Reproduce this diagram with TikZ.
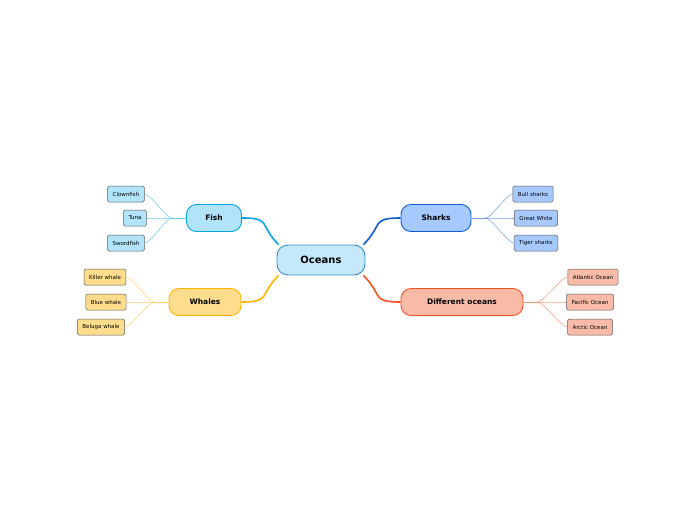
\documentclass[tikz,border=0pt]{standalone}
\usepackage{fontspec}
\setmainfont{DejaVu Sans}
\usepackage{tikz}
\usetikzlibrary{positioning}

\definecolor{oceanfill}{HTML}{C4E9FB}
\definecolor{oceanline}{HTML}{3A8CC4}
\definecolor{fishfill}{HTML}{B1E4FA}
\definecolor{fishline}{HTML}{03A3E6}
\definecolor{sharkfill}{HTML}{A6C9FF}
\definecolor{sharkline}{HTML}{0B5CD6}
\definecolor{whalefill}{HTML}{FFDD8C}
\definecolor{whaleline}{HTML}{FFB300}
\definecolor{seafill}{HTML}{F9BBA8}
\definecolor{sealine}{HTML}{F4511E}

\tikzset{
	root/.style={draw=oceanline, fill=oceanfill, rounded corners=11pt, line width=0.9pt,
		minimum width=88pt, minimum height=30pt, font=\bfseries\fontsize{10}{12}\selectfont},
	topic/.style={draw=#1line, fill=#1fill, rounded corners=10pt, line width=0.9pt,
		minimum height=27pt, inner xsep=8pt, font=\bfseries\fontsize{7.5}{9}\selectfont},
	leaf/.style={draw=black!65, fill=#1fill, rounded corners=1.5pt, line width=0.5pt,
		minimum height=16pt, inner xsep=5pt, font=\fontsize{5.5}{7}\selectfont},
	main link/.style={draw=#1line, line width=1.6pt},
	leaf link/.style={draw=#1line!60, line width=0.5pt},
}

\begin{document}
\begin{tikzpicture}[x=1pt, y=-1pt]

	% ------------------------------------------------
	% Canvas
	\useasboundingbox (0,0) rectangle (697,520);

	% ------------------------------------------------
	% Centre and topics
	\node[root] (Oceans) at (321,260) {Oceans};

	\node[topic=fish, minimum width=55pt]   (Fish)   at (214,218) {Fish};
	\node[topic=whale, minimum width=72pt]  (Whales) at (205,302) {Whales};
	\node[topic=shark, minimum width=70pt]  (Sharks) at (436,218) {Sharks};
	\node[topic=sea, minimum width=122pt]   (Seas)   at (462,302) {Different oceans};

	% ----------------
	% Leaves
	\node[leaf=fish]  (Clownfish) at (126,194) {Clownfish};
	\node[leaf=fish]  (Tuna)      at (135,218) {Tuna};
	\node[leaf=fish]  (Swordfish) at (126,243) {Swordfish};

	\node[leaf=whale] (Killer)    at (105,277) {Killer whale};
	\node[leaf=whale] (Blue)      at (106,302) {Blue whale};
	\node[leaf=whale] (Beluga)    at (101,327) {Beluga whale};

	\node[leaf=shark] (Bull)      at (533,194) {Bull sharks};
	\node[leaf=shark] (Great)     at (536,218) {Great White};
	\node[leaf=shark] (Tiger)     at (536,243) {Tiger sharks};

	\node[leaf=sea]   (Atlantic)  at (593,277) {Atlantic Ocean};
	\node[leaf=sea]   (Pacific)   at (590,302) {Pacific Ocean};
	\node[leaf=sea]   (Arctic)    at (590,327) {Arctic Ocean};

	% ------------------------------------------------
	% Split points
	\path (Fish.west)   +(-14,0) coordinate (FishSplit);
	\path (Whales.west) +(-14,0) coordinate (WhaleSplit);
	\path (Sharks.east) +(14,0)  coordinate (SharkSplit);
	\path (Seas.east)   +(14,0)  coordinate (SeaSplit);

	% ------------------------------------------------
	% Main branches
	\begin{scope}[on background layer/.style={}]
	\draw[main link=fish]  (Oceans.160) .. controls +(-20,-20) and +(30,0) .. (Fish.east);
	\draw[main link=whale] (Oceans.200) .. controls +(-20,20) and +(30,0) .. (Whales.east);
	\draw[main link=shark] (Oceans.20)  .. controls +(20,-20) and +(-30,0) .. (Sharks.west);
	\draw[main link=sea]   (Oceans.340) .. controls +(20,20) and +(-30,0) .. (Seas.west);
	\end{scope}

	% ----------------
	% Leaf branches
	\draw[leaf link=fish] (Fish.west) -- (FishSplit);
	\foreach \l in {Clownfish, Tuna, Swordfish}
		\draw[leaf link=fish] (FishSplit) .. controls +(-6,0) and +(6,0) .. (\l.east);

	\draw[leaf link=whale] (Whales.west) -- (WhaleSplit);
	\foreach \l in {Killer, Blue, Beluga}
		\draw[leaf link=whale] (WhaleSplit) .. controls +(-6,0) and +(6,0) .. (\l.east);

	\draw[leaf link=shark] (Sharks.east) -- (SharkSplit);
	\foreach \l in {Bull, Great, Tiger}
		\draw[leaf link=shark] (SharkSplit) .. controls +(6,0) and +(-6,0) .. (\l.west);

	\draw[leaf link=sea] (Seas.east) -- (SeaSplit);
	\foreach \l in {Atlantic, Pacific, Arctic}
		\draw[leaf link=sea] (SeaSplit) .. controls +(6,0) and +(-6,0) .. (\l.west);

\end{tikzpicture}
\end{document}
